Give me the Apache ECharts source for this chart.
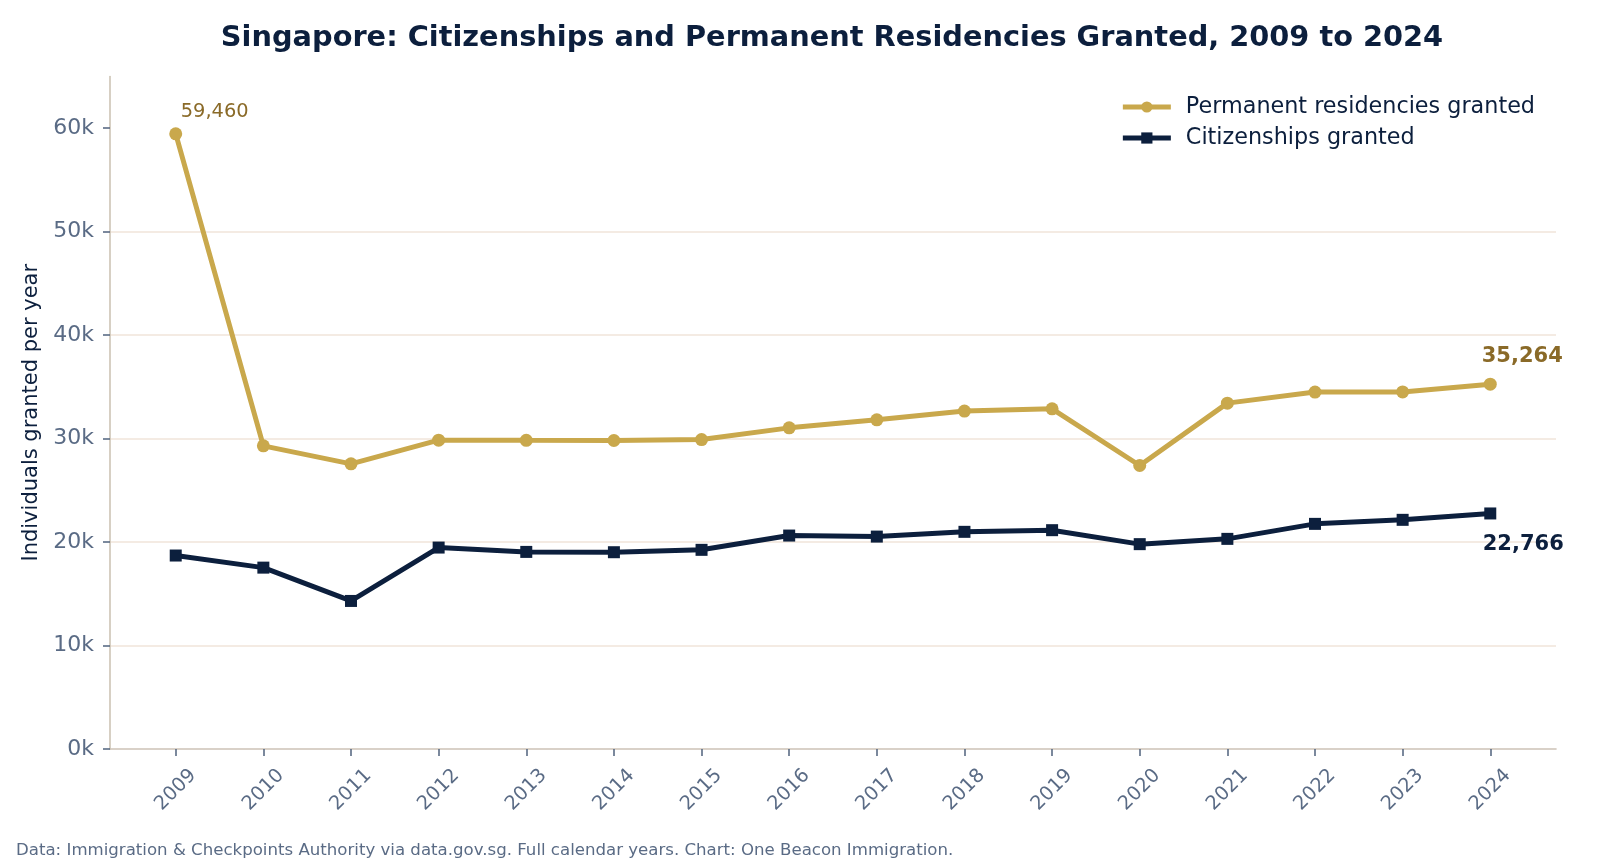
<!DOCTYPE html>
<html>
<head>
<meta charset="utf-8">
<script src="https://cdn.jsdelivr.net/npm/echarts@6/dist/echarts.min.js"></script>
<style>
  html, body { margin: 0; padding: 0; background: #fff; }
  #chart { width: 1600px; height: 864px; }
</style>
</head>
<body>
<div id="chart"></div>
<script>
const years = [2009, 2010, 2011, 2012, 2013, 2014, 2015, 2016, 2017, 2018, 2019, 2020, 2021, 2022, 2023, 2024];
const prGranted = [59460, 29300, 27560, 29850, 29830, 29820, 29910, 31040, 31820, 32660, 32880, 27400, 33430, 34500, 34510, 35264];
const citizenshipsGranted = [18700, 17530, 14310, 19470, 19050, 19020, 19250, 20630, 20530, 20990, 21150, 19800, 20310, 21760, 22150, 22766];
const yTicks = [0, 10000, 20000, 30000, 40000, 50000, 60000];

const gold = "#c9a84c",
  goldText = "#8a6a28",
  navy = "#0c1f3d",
  slate = "#5a6b85";

const fmt = (p) => p.value[1].toLocaleString("en-US");

// first PR point gets a small note, last points of both lines get bold labels
const prData = years.map((y, i) => {
  const item = { value: [y, prGranted[i]] };
  if (i === 0) {
    item.label = {
      show: true,
      position: "top",
      align: "left",
      offset: [5, -1],
      formatter: fmt,
      fontSize: 19.4,
      color: goldText,
    };
  }
  if (i === years.length - 1) {
    item.label = {
      show: true,
      position: "top",
      offset: [32, -6],
      formatter: fmt,
      fontSize: 21,
      fontWeight: "bold",
      color: goldText,
    };
  }
  return item;
});

const citData = years.map((y, i) => {
  const item = { value: [y, citizenshipsGranted[i]] };
  if (i === years.length - 1) {
    item.label = {
      show: true,
      position: "bottom",
      offset: [33, 10],
      formatter: fmt,
      fontSize: 21,
      fontWeight: "bold",
      color: navy,
    };
  }
  return item;
});

echarts.init(document.querySelector("#chart")).setOption({
  animation: false,
  textStyle: { fontFamily: "DejaVu Sans" },
  title: [
    {
      text: "Singapore: Citizenships and Permanent Residencies Granted, 2009 to 2024",
      left: 827,
      top: 19,
      textAlign: "center",
      textStyle: { fontSize: 28.8, fontWeight: "bold", color: navy, fontFamily: "DejaVu Sans" },
    },
    {
      text: "Data: Immigration & Checkpoints Authority via data.gov.sg. Full calendar years. Chart: One Beacon Immigration.",
      left: 16,
      top: 842,
      padding: 0,
      textStyle: { fontSize: 16.6, fontWeight: "normal", color: slate, fontFamily: "DejaVu Sans" },
    },
  ],
  legend: {
    orient: "vertical",
    right: 60,
    top: 91,
    itemWidth: 48,
    itemHeight: 14,
    itemGap: 9,
    lineStyle: { width: 5 },
    textStyle: { fontSize: 22.3, color: navy, lineHeight: 22, padding: [0, 0, 0, 10] },
    data: ["Permanent residencies granted", "Citizenships granted"],
  },
  grid: { left: 110, right: 44, top: 76.5, bottom: 115 },
  xAxis: {
    type: "value",
    min: 2008.25,
    max: 2024.75,
    splitLine: { show: false },
    axisLine: { lineStyle: { color: "#cdc2b6", width: 1.6 } },
    axisTick: { customValues: years, length: 7, lineStyle: { color: slate, width: 1.6 } },
    axisLabel: {
      customValues: years,
      formatter: (v) => String(v),
      rotate: 45,
      align: "center",
      verticalAlign: "middle",
      margin: 41,
      fontSize: 19.4,
      color: slate,
    },
  },
  yAxis: {
    type: "value",
    min: 0,
    max: 65000,
    interval: 10000,
    name: "Individuals granted per year",
    nameLocation: "middle",
    nameGap: 62,
    nameTextStyle: { fontSize: 21, color: navy },
    axisLine: { show: true, lineStyle: { color: "#cdc4b5", width: 1.6 } },
    axisTick: { show: true, customValues: yTicks, length: 7, lineStyle: { color: slate, width: 1.6 } },
    axisLabel: {
      customValues: yTicks,
      formatter: (v) => v / 1000 + "k",
      margin: 16,
      fontSize: 22,
      color: slate,
    },
    splitLine: {
      show: true,
      showMinLine: false,
      showMaxLine: false,
      lineStyle: { color: "#f0e5da", width: 1.6 },
    },
  },
  series: [
    {
      name: "Permanent residencies granted",
      type: "line",
      data: prData,
      symbol: "circle",
      symbolSize: 13,
      lineStyle: { color: gold, width: 5 },
      itemStyle: { color: gold },
      z: 3,
    },
    {
      name: "Citizenships granted",
      type: "line",
      data: citData,
      symbol: "rect",
      symbolSize: 12,
      lineStyle: { color: navy, width: 5 },
      itemStyle: { color: navy },
      z: 3,
    },
  ],
});
</script>
</body>
</html>
